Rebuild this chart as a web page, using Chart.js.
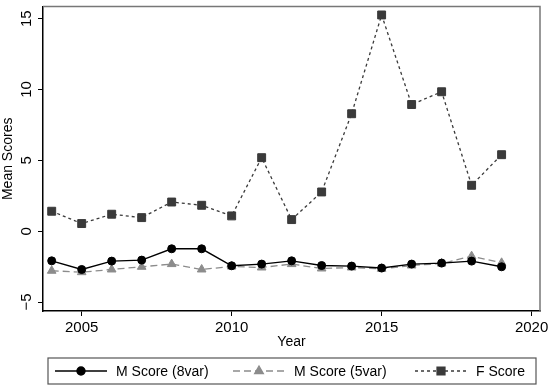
<!DOCTYPE html>
<html>
<head>
<meta charset="utf-8">
<script src="https://cdn.jsdelivr.net/npm/chart.js@4/dist/chart.umd.min.js"></script>
<style>
  html, body { margin: 0; padding: 0; background: #fff; }
  #wrap { width: 550px; height: 389px; }
</style>
</head>
<body>
<div id="wrap"><canvas id="scores" width="550" height="389"></canvas></div>
<script>
// values
var years = [2004, 2005, 2006, 2007, 2008, 2009, 2010, 2011, 2012, 2013, 2014, 2015, 2016, 2017, 2018, 2019];
var mScore8 = [-2.09, -2.70, -2.11, -2.04, -1.24, -1.24, -2.44, -2.32, -2.09, -2.42, -2.46, -2.60, -2.32, -2.25, -2.11, -2.51];
var mScore5 = [-2.79, -2.89, -2.70, -2.51, -2.32, -2.70, -2.49, -2.56, -2.32, -2.63, -2.56, -2.65, -2.42, -2.28, -1.76, -2.23];
var fScore  = [1.41, 0.54, 1.20, 0.96, 2.06, 1.83, 1.08, 5.19, 0.82, 2.77, 8.29, 15.26, 8.94, 9.84, 3.24, 5.40];
var xTicks = [2005, 2010, 2015, 2020];
var yTicks = [-5, 0, 5, 10, 15];
var seriesNames = ['M Score (8var)', 'M Score (5var)', 'F Score'];

var FONT = '"Liberation Sans", Arial, Helvetica, sans-serif';

function pts(vals){
  return years.map(function(y, i){ return { x: y, y: vals[i] }; });
}
function yLabel(v){ return v < 0 ? '\u2212' + Math.abs(v) : String(v); }
function noPad(s){ s.paddingTop = 0; s.paddingBottom = 0; s.paddingLeft = 0; s.paddingRight = 0; }

// grey frame on top/right like Stata's plot region outline
var framePlugin = {
  id: 'frame',
  beforeDatasetsDraw: function(chart){
    var a = chart.chartArea, ctx = chart.ctx;
    ctx.save();
    ctx.strokeStyle = '#777';
    ctx.lineWidth = 1.5;
    ctx.beginPath();
    ctx.moveTo(a.left, a.top); ctx.lineTo(a.right, a.top); ctx.lineTo(a.right, a.bottom);
    ctx.stroke();
    ctx.restore();
  }
};

// vertical y tick labels, centred on their ticks
var yLabelPlugin = {
  id: 'yLabels',
  afterDraw: function(chart){
    var s = chart.scales.y, ctx = chart.ctx;
    ctx.save();
    ctx.fillStyle = '#000';
    ctx.font = '15px ' + FONT;
    ctx.textAlign = 'center';
    ctx.textBaseline = 'middle';
    s.ticks.forEach(function(t){
      var py = s.getPixelForValue(t.value);
      ctx.save();
      ctx.translate(27, py);
      ctx.rotate(-Math.PI / 2);
      ctx.fillText(yLabel(t.value), 0, 0);
      ctx.restore();
    });
    ctx.restore();
  }
};

// legend box with line + marker samples
var legendPlugin = {
  id: 'boxLegend',
  afterDraw: function(chart){
    var ctx = chart.ctx;
    var bx = 48, by = 358, bw = 488, bh = 26, cy = by + bh / 2;
    var starts = [55, 233, 415];
    ctx.save();
    ctx.strokeStyle = '#555';
    ctx.lineWidth = 1.2;
    ctx.strokeRect(bx, by, bw, bh);
    chart.data.datasets.forEach(function(ds, i){
      var x0 = starts[i];
      ctx.save();
      ctx.strokeStyle = ds.borderColor;
      ctx.lineWidth = ds.borderWidth;
      ctx.setLineDash(ds.borderDash || []);
      ctx.beginPath(); ctx.moveTo(x0, cy); ctx.lineTo(x0 + 52, cy); ctx.stroke();
      ctx.setLineDash([]);
      ctx.fillStyle = ds.pointBackgroundColor;
      ctx.strokeStyle = ds.pointBorderColor;
      Chart.helpers.drawPoint(ctx, { pointStyle: ds.pointStyle, radius: ds.pointRadius, borderWidth: 1 }, x0 + 26, cy);
      ctx.restore();
      ctx.fillStyle = '#000';
      ctx.font = '14px ' + FONT;
      ctx.textBaseline = 'middle';
      ctx.fillText(ds.label, x0 + 61, cy + 1);
    });
    ctx.restore();
  }
};

new Chart(document.getElementById('scores'), {
  type: 'line',
  data: {
    datasets: [
      { label: seriesNames[0], data: pts(mScore8), borderColor: '#000', borderWidth: 1.4,
        pointStyle: 'circle', pointRadius: 4, pointBackgroundColor: '#000', pointBorderColor: '#000', pointBorderWidth: 1 },
      { label: seriesNames[1], data: pts(mScore5), borderColor: '#8c8c8c', borderWidth: 1.3, borderDash: [7, 4],
        pointStyle: 'triangle', pointRadius: 5, pointBackgroundColor: '#8c8c8c', pointBorderColor: '#8c8c8c', pointBorderWidth: 1 },
      { label: seriesNames[2], data: pts(fScore), borderColor: '#3a3a3a', borderWidth: 1.3, borderDash: [3, 3],
        pointStyle: 'rect', pointRadius: 5.6, pointBackgroundColor: '#3a3a3a', pointBorderColor: '#3a3a3a', pointBorderWidth: 1 }
    ]
  },
  options: {
    responsive: false,
    animation: false,
    layout: { padding: { top: 6, right: 10, bottom: 38, left: 0 } },
    plugins: { legend: { display: false }, tooltip: { enabled: false } },
    elements: { line: { tension: 0 } },
    scales: {
      x: {
        type: 'linear', min: 2003.71, max: 2020.28,
        afterBuildTicks: function(s){ s.ticks = xTicks.map(function(v){ return { value: v }; }); },
        afterFit: function(s){ s.height = 40; noPad(s); },
        grid: { display: true, drawOnChartArea: false, drawTicks: true, tickLength: 5, color: '#000', lineWidth: 1 },
        border: { display: true, color: '#000', width: 1.5 },
        ticks: { color: '#000', font: { family: FONT, size: 15 }, padding: 3, maxRotation: 0, callback: function(v){ return String(v); } },
        title: { display: true, text: 'Year', color: '#000', font: { family: FONT, size: 14 }, padding: { top: 0, bottom: 0 } }
      },
      y: {
        min: -5.63, max: 15.85,
        afterBuildTicks: function(s){ s.ticks = yTicks.map(function(v){ return { value: v }; }); },
        afterFit: function(s){ s.width = 43; noPad(s); },
        grid: { display: true, drawOnChartArea: false, drawTicks: true, tickLength: 5, color: '#000', lineWidth: 1 },
        border: { display: true, color: '#000', width: 1.5 },
        ticks: { color: 'rgba(0,0,0,0)', font: { family: FONT, size: 15 }, padding: 4, callback: yLabel },
        title: { display: true, text: 'Mean Scores', color: '#000', font: { family: FONT, size: 14 }, padding: { top: 0, bottom: 0 } }
      }
    }
  },
  plugins: [framePlugin, yLabelPlugin, legendPlugin]
});
</script>
</body>
</html>
